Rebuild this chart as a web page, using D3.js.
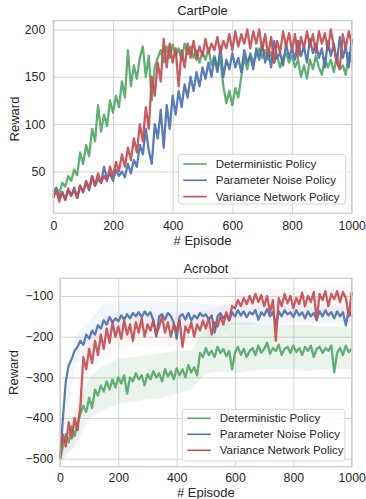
<!DOCTYPE html>
<html>
<head>
<meta charset="utf-8">
<script src="https://cdn.jsdelivr.net/npm/d3@7"></script>
<style>
  body { margin: 0; background: #fff; }
  svg text { font-family: "Liberation Sans", Arial, sans-serif; fill: #262626; }
</style>
</head>
<body>
<svg id="chart" width="366" height="499"></svg>
<script>
"use strict";

// episodes sampled every 10
const episodes = d3.range(0, 1001, 10);
const seriesNames = ['Deterministic Policy', 'Parameter Noise Policy', 'Variance Network Policy'];
const seriesColors = ['#55A868', '#4C72B0', '#C44E52'];
const xTicks = [0, 200, 400, 600, 800, 1000];

// CartPole reward
const cartDeterministic = [28, 33, 26, 38, 34, 45, 40, 52, 46, 70, 58, 78, 66, 95, 82, 120, 92, 110, 98, 125,
  112, 130, 118, 145, 128, 178, 140, 162, 148, 170, 182, 150, 172, 125, 160, 170, 178, 165, 182, 170,
  184, 172, 180, 168, 185, 174, 182, 170, 178, 165, 176, 168, 180, 162, 172, 160, 168, 140, 122, 135,
  120, 138, 128, 150, 170, 158, 175, 165, 172, 180, 170, 178, 168, 176, 165, 172, 160, 170, 175, 165,
  172, 160, 168, 150, 162, 148, 168, 158, 172, 160, 152, 170, 160, 168, 155, 172, 158, 162, 152, 175, 165];
const cartParamNoise = [25, 32, 22, 28, 20, 30, 24, 33, 22, 35, 28, 38, 30, 45, 35, 42, 38, 55, 42, 48,
  40, 52, 45, 50, 44, 58, 48, 62, 55, 78, 68, 95, 72, 58, 100, 85, 115, 75, 120, 95,
  130, 110, 135, 118, 142, 128, 150, 135, 155, 140, 160, 148, 165, 150, 170, 155, 182, 150, 168, 158,
  175, 160, 170, 155, 178, 165, 172, 158, 180, 168, 185, 165, 178, 160, 188, 170, 175, 162, 185, 170,
  180, 168, 188, 172, 182, 165, 190, 175, 185, 170, 180, 160, 188, 172, 185, 165, 192, 170, 182, 160, 190];
const cartVariance = [22, 30, 18, 28, 20, 32, 25, 30, 22, 35, 28, 40, 32, 45, 35, 48, 38, 45, 40, 55,
  45, 60, 50, 68, 55, 75, 62, 85, 70, 100, 82, 118, 95, 150, 130, 165, 145, 190, 160, 185,
  165, 180, 140, 178, 160, 185, 170, 188, 168, 182, 172, 190, 175, 185, 178, 192, 175, 188, 180, 195,
  178, 198, 182, 195, 185, 200, 180, 198, 185, 200, 178, 195, 172, 192, 165, 188, 175, 198, 182, 196,
  178, 195, 170, 192, 180, 198, 182, 195, 175, 198, 185, 196, 178, 200, 182, 165, 158, 195, 180, 198, 185];

// Acrobot reward
const acroDeterministic = [-500, -470, -440, -460, -420, -445, -410, -390, -370, -385, -350, -375, -330, -345, -320, -335, -310, -330, -305, -325,
  -300, -315, -295, -340, -300, -310, -290, -305, -295, -320, -292, -305, -285, -300, -290, -310, -280, -298, -285, -305,
  -278, -295, -280, -300, -270, -288, -275, -295, -240, -250, -228, -245, -235, -250, -225, -240, -230, -248, -235, -280,
  -240, -225, -245, -230, -250, -235, -228, -245, -222, -240, -230, -215, -242, -228, -235, -220, -245, -230, -225, -240,
  -222, -238, -228, -245, -225, -235, -222, -250, -230, -225, -240, -228, -235, -222, -288, -240, -228, -245, -222, -238, -230];
const acroParamNoise = [-500, -400, -310, -270, -255, -235, -225, -210, -220, -195, -205, -185, -195, -172, -180, -160, -170, -152, -165, -155,
  -162, -148, -158, -145, -155, -142, -150, -140, -152, -138, -148, -140, -160, -200, -150, -145, -158, -142, -150, -165,
  -205, -150, -145, -158, -142, -160, -148, -155, -142, -150, -145, -158, -148, -190, -150, -142, -155, -145, -160, -140,
  -150, -135, -148, -138, -152, -140, -145, -135, -158, -140, -148, -132, -150, -140, -170, -138, -150, -135, -145, -140,
  -152, -135, -148, -140, -155, -138, -150, -142, -158, -138, -150, -135, -148, -140, -155, -138, -150, -140, -172, -135, -150];
const acroVariance = [-500, -440, -470, -410, -450, -400, -430, -370, -250, -280, -230, -265, -210, -245, -195, -230, -180, -215, -165, -200,
  -175, -205, -160, -195, -170, -210, -165, -190, -155, -200, -170, -185, -160, -195, -175, -150, -190, -165, -200, -170,
  -185, -160, -225, -175, -190, -165, -200, -170, -185, -160, -180, -155, -195, -165, -175, -150, -170, -140, -160, -125,
  -130, -110, -125, -105, -120, -100, -118, -95, -115, -98, -125, -100, -140, -110, -210, -105, -125, -95, -118, -100,
  -130, -105, -120, -92, -125, -100, -115, -90, -160, -95, -110, -88, -125, -95, -108, -88, -115, -90, -105, -150, -90];

// Acrobot spread bands, every 50 episodes
const bandEpisodes = d3.range(0, 1001, 50);
const acroDetUpper = [-480, -390, -300, -270, -255, -250, -245, -240, -235, -235, -175, -170, -165, -165, -170, -170, -170, -170, -175, -175, -180];
const acroDetLower = [-510, -470, -400, -380, -365, -360, -355, -350, -340, -330, -290, -285, -290, -285, -280, -280, -280, -285, -280, -280, -280];
const acroNoiseUpper = [-480, -200, -160, -120, -115, -110, -110, -115, -115, -115, -120, -120, -120, -120, -122, -122, -125, -125, -125, -125, -125];
const acroNoiseLower = [-510, -270, -230, -190, -185, -180, -175, -175, -180, -180, -175, -175, -170, -170, -168, -168, -165, -165, -165, -165, -165];
const acroVarUpper = [-470, -370, -190, -150, -140, -140, -140, -140, -140, -140, -135, -125, -95, -85, -85, -82, -80, -80, -78, -78, -78];
const acroVarLower = [-510, -460, -290, -250, -230, -225, -225, -225, -225, -220, -215, -200, -160, -150, -150, -148, -145, -145, -145, -145, -145];

const svg = d3.select('#chart');

function drawPanel(cfg) {
  const w = cfg.right - cfg.left;
  const h = cfg.bottom - cfg.top;

  let x = d3.scaleLinear().domain([0, 1000]).range([cfg.left, cfg.right]);
  let y = d3.scaleLinear().domain(cfg.yDomain).range([cfg.bottom, cfg.top]);

  let g = svg.append('g');

  // grid + tick labels
  let yAxis = g.append('g')
    .attr('transform', 'translate(' + cfg.left + ',0)')
    .call(d3.axisLeft(y).tickValues(cfg.yTicks).tickSize(-w).tickPadding(cfg.yPad)
      .tickFormat((d) => d < 0 ? '\u2212' + Math.abs(d) : String(d)));
  let xAxis = g.append('g')
    .attr('transform', 'translate(0,' + cfg.bottom + ')')
    .call(d3.axisBottom(x).tickValues(xTicks).tickSize(-h).tickPadding(cfg.xPad)
      .tickFormat((d) => String(d)));

  [yAxis, xAxis].forEach((a) => {
    a.select('.domain').remove();
    a.selectAll('line').attr('stroke', '#d5d5d5').attr('stroke-width', 1);
    a.selectAll('text').attr('font-size', '12.3px').style('font-family', '"Liberation Sans", Arial, sans-serif');
  });

  // bands
  if (cfg.bands) {
    cfg.bands.forEach((b, i) => {
      let area = d3.area()
        .x((d, j) => x(bandEpisodes[j]))
        .y0((d, j) => y(b.lower[j]))
        .y1((d) => y(d));
      g.append('path')
        .datum(b.upper)
        .attr('d', area)
        .attr('fill', seriesColors[i])
        .attr('opacity', b.alpha);
    });
  }

  // lines
  let line = d3.line()
    .x((d, j) => x(episodes[j]))
    .y((d) => y(d));

  cfg.series.forEach((s, i) => {
    g.append('path')
      .datum(s)
      .attr('d', line)
      .attr('fill', 'none')
      .attr('stroke', seriesColors[i])
      .attr('stroke-width', 2.3)
      .attr('stroke-linejoin', 'round')
      .attr('opacity', 0.92);
  });

  // frame
  g.append('rect')
    .attr('x', cfg.left).attr('y', cfg.top)
    .attr('width', w).attr('height', h)
    .attr('fill', 'none')
    .attr('stroke', '#cccccc')
    .attr('stroke-width', 1.25);

  // title + labels
  g.append('text')
    .attr('x', (cfg.left + cfg.right) / 2)
    .attr('y', cfg.titleY)
    .attr('text-anchor', 'middle')
    .attr('font-size', '13px')
    .text(cfg.title);

  g.append('text')
    .attr('x', (cfg.left + cfg.right) / 2)
    .attr('y', cfg.xLabelY)
    .attr('text-anchor', 'middle')
    .attr('font-size', '13px')
    .text('# Episode');

  g.append('text')
    .attr('transform', 'translate(' + cfg.yLabelX + ',' + cfg.yLabelY + ') rotate(-90)')
    .attr('text-anchor', 'middle')
    .attr('font-size', '13px')
    .text('Reward');

  // legend
  let lg = g.append('g').attr('transform', 'translate(' + cfg.legend.x + ',' + cfg.legend.y + ')');
  lg.append('rect')
    .attr('width', cfg.legend.w).attr('height', cfg.legend.h)
    .attr('rx', 3).attr('ry', 3)
    .attr('fill', '#ffffff').attr('fill-opacity', 0.85)
    .attr('stroke', '#d5d5d5').attr('stroke-width', 1);

  seriesNames.forEach((name, i) => {
    let ry = cfg.legend.row0 + i * cfg.legend.step;
    lg.append('line')
      .attr('x1', 5).attr('x2', 28.5)
      .attr('y1', ry).attr('y2', ry)
      .attr('stroke', seriesColors[i])
      .attr('stroke-width', 1.6);
    lg.append('text')
      .attr('x', 37.5)
      .attr('y', ry)
      .attr('dy', '0.35em')
      .attr('font-size', '11.5px')
      .text(name);
  });
}

drawPanel({
  title: 'CartPole',
  left: 53.3, right: 351.7, top: 20.7, bottom: 213.3,
  yDomain: [5.75, 209.25],
  yTicks: [50, 100, 150, 200],
  yPad: 8, xPad: 8.4,
  titleY: 15, xLabelY: 245, yLabelX: 18.5, yLabelY: 119,
  series: [cartDeterministic, cartParamNoise, cartVariance],
  legend: { x: 178.3, y: 154.3, w: 167.4, h: 49.7, row0: 9.7, step: 16.3 }
});

drawPanel({
  title: 'Acrobot',
  left: 60, right: 351.7, top: 278.3, bottom: 466.7,
  yDomain: [-519.7, -56.5],
  yTicks: [-500, -400, -300, -200, -100],
  yPad: 6.7, xPad: 6.7,
  titleY: 272.5, xLabelY: 497, yLabelX: 18, yLabelY: 372.5,
  series: [acroDeterministic, acroParamNoise, acroVariance],
  bands: [
    { upper: acroDetUpper, lower: acroDetLower, alpha: 0.12 },
    { upper: acroNoiseUpper, lower: acroNoiseLower, alpha: 0.07 },
    { upper: acroVarUpper, lower: acroVarLower, alpha: 0.04 }
  ],
  legend: { x: 182.3, y: 409.3, w: 162.7, h: 51.7, row0: 9, step: 16 }
});
</script>
</body>
</html>
